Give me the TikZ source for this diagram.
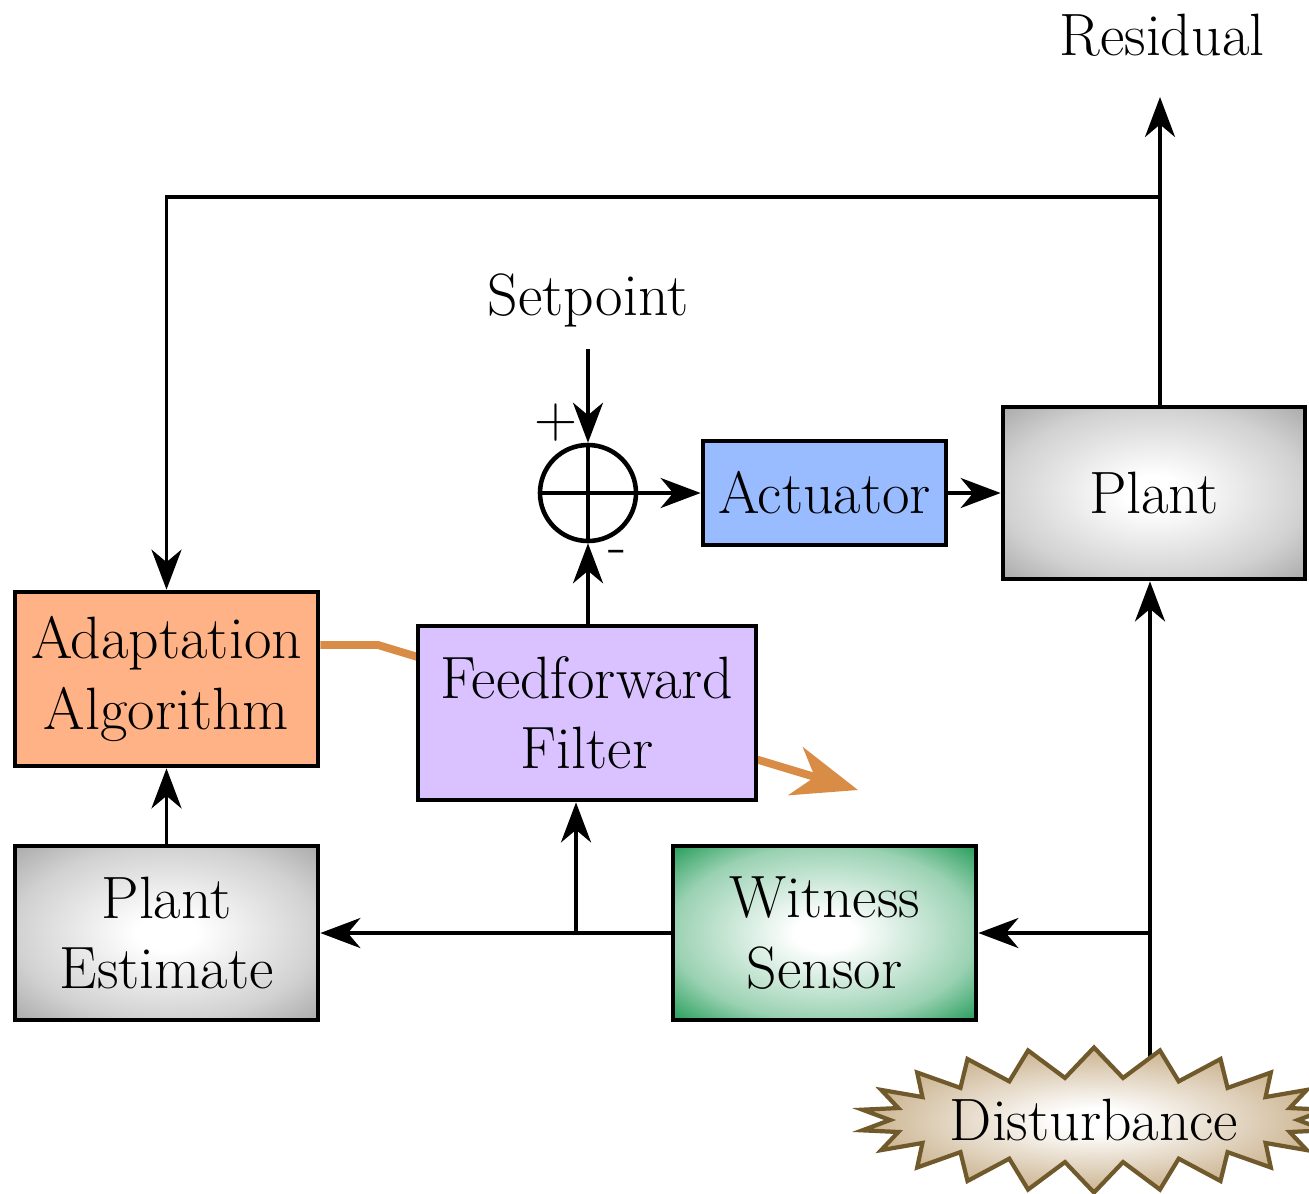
\documentclass[tikz,border=0pt]{standalone}
\usepackage{xcolor}
\usepackage{tikz}
\usetikzlibrary{shapes.geometric,shapes.symbols,arrows.meta,positioning,calc,backgrounds}
\definecolor{ancblue}{HTML}{99BBFF}
\definecolor{ancorange}{HTML}{FFB285}
\definecolor{anclilac}{HTML}{D9C2FF}
\definecolor{ancgreen}{HTML}{1F9A55}
\definecolor{anctan}{HTML}{C2A67C}
\definecolor{ancbrown}{HTML}{705A2C}
\definecolor{ancadapt}{HTML}{D98C45}
\pgfdeclareradialshading{softgray}{\pgfpoint{0bp}{0bp}}{color(0bp)=(white); color(5bp)=(white); color(25bp)=(black!18); color(36bp)=(black!34); color(50bp)=(black!34)}
\pgfdeclareradialshading{softgreen}{\pgfpoint{0bp}{0bp}}{color(0bp)=(white); color(5bp)=(white); color(25bp)=(ancgreen!45); color(36bp)=(ancgreen); color(50bp)=(ancgreen)}
\pgfdeclareradialshading{softtan}{\pgfpoint{0bp}{0bp}}{color(0bp)=(white); color(4bp)=(white); color(25bp)=(anctan!85); color(36bp)=(anctan); color(50bp)=(anctan)}
\tikzset{
  block/.style={rectangle, draw=black, line width=2.7pt, align=center, minimum width=6.06cm, minimum height=3.48cm, font=\fontsize{34}{40}\selectfont},
  grayblock/.style={block, shading=softgray},
  greenblock/.style={block, shading=softgreen},
  sumpoint/.style={circle, draw=black, line width=2.6pt, minimum size=1.92cm, inner sep=0pt},
  burst/.style={starburst, starburst points=22, random starburst=0, starburst point height=0.6cm, draw=ancbrown, line width=2.4pt, shading=softtan, minimum width=8.6cm, minimum height=2.9cm, inner sep=0pt, font=\fontsize{34}{40}\selectfont},
  txt/.style={font=\fontsize{34}{40}\selectfont, inner sep=1pt},
  line/.style={line width=2.2pt},
  flow/.style={line width=2.2pt, -{Stealth[length=8mm,width=6mm,inset=2.5mm]}},
  adaptflow/.style={draw=ancadapt, line width=4.5pt, -{Stealth[length=13mm,width=10mm,inset=4mm]}},
}

\begin{document}
\begin{tikzpicture}
  \useasboundingbox (0,0) rectangle (26.18,-23.86);
  \node[txt] (resid) at (23.24,-0.7) {Residual};
  \node[txt] (setp) at (11.76,-6.0) {Setpoint};
  \node[sumpoint] (sum) at (11.76,-9.86) {};
  \node[txt] (plus) at (11.12,-8.46) {+};
  \node[txt] (minus) at (12.36,-11.14) {-};
  \node[block,fill=ancblue,minimum width=4.86cm,minimum height=2.08cm] (act) at (16.49,-9.86) {Actuator};
  \node[grayblock,minimum width=6.04cm,minimum height=3.44cm] (plant) at (23.08,-9.86) {Plant};
  \node[block,fill=ancorange] (adapt) at (3.33,-13.58) {Adaptation\\Algorithm};
  \node[block,fill=anclilac,minimum width=6.76cm] (ff) at (11.74,-14.26) {Feedforward\\Filter};
  \node[grayblock] (pest) at (3.33,-18.66) {Plant\\Estimate};
  \node[greenblock] (wit) at (16.49,-18.66) {Witness\\Sensor};
  \coordinate (resout) at (23.2,-1.94);
  \coordinate (fbtap) at (23.2,-3.94);
  \coordinate (bend) at (7.56,-12.9);
  \coordinate (adtip) at (17.16,-15.8);
  \coordinate (dtop) at (23.0,-21.2);
  \coordinate (ftap) at (11.52,-18.66);
  \begin{scope}[on background layer]
    \draw[adaptflow] (adapt.east |- bend) -- (bend) -- (adtip);
  \end{scope}
  \draw[line] (sum.north) -- (sum.south);
  \draw[line] (sum.west) -- (sum.east);
  \draw[flow] (plant.north -| resout) -- (resout);
  \draw[flow] (fbtap) -| (adapt.north);
  \draw[flow] ([yshift=-0.4cm]setp.south) -- (sum.north);
  \draw[flow] (sum.east) -- (act.west);
  \draw[flow] (act.east) -- (plant.west);
  \draw[flow] (ff.north -| sum.south) -- (sum.south);
  \draw[flow] (dtop) -- (dtop |- plant.south);
  \draw[flow] (dtop |- wit.east) -- (wit.east);
  \draw[flow] (wit.west) -- (pest.east);
  \draw[flow] (ftap) -- (ftap |- ff.south);
  \draw[flow] (pest.north) -- (adapt.south);
  \node[burst] (dist) at (21.88,-22.4) {Disturbance};
\end{tikzpicture}
\end{document}
